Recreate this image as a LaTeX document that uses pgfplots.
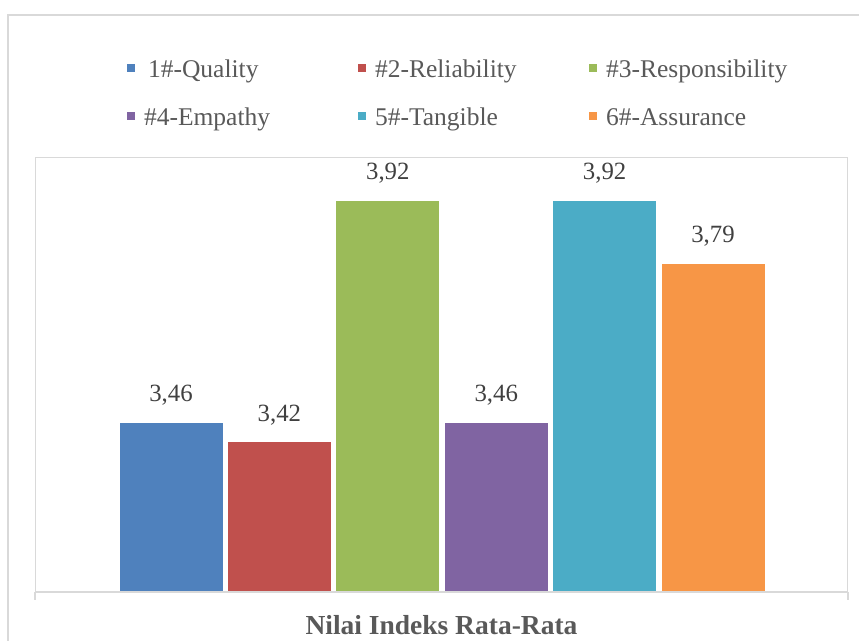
\documentclass[border=0pt]{standalone}
\usepackage{pgfplots}
\pgfplotsset{compat=1.18}
\usepackage{fontspec}
\setmainfont{Liberation Serif}
\definecolor{cQ}{HTML}{4F81BD}
\definecolor{cR}{HTML}{C0504D}
\definecolor{cS}{HTML}{9BBB59}
\definecolor{cE}{HTML}{8064A2}
\definecolor{cT}{HTML}{4BACC6}
\definecolor{cA}{HTML}{F79646}
\definecolor{gridgray}{HTML}{D9D9D9}
\definecolor{txtgray}{HTML}{595959}
\definecolor{lblgray}{HTML}{404040}
\begin{document}
\begin{tikzpicture}
\useasboundingbox (0pt,0pt) rectangle (429.5pt,-320.5pt);
\draw[gridgray, line width=0.7pt] (4pt,-7.5pt) rectangle (445pt,-345pt);
\begin{axis}[
  at={(17.5pt,-296pt)}, anchor=south west,
  scale only axis, width=406.5pt, height=217.5pt,
  xmin=-0.2546, xmax=7.245, ymin=3.109, ymax=4.010,
  ybar, bar width=52pt,
  axis line style={gridgray, line width=0.5pt},
  xtick={-0.2546,7.245}, xticklabels={}, ytick=\empty,
  tick align=outside, tick pos=lower, major tick length=4pt,
  tick style={gridgray, line width=0.7pt},
  clip=false,
  /pgf/number format/.cd, use comma, fixed, fixed zerofill, precision=2, assume math mode=true,
  /pgfplots/.cd,
  nodes near coords,
  every node near coord/.append style={font=\fontsize{12.4}{14}\selectfont, text=lblgray, anchor=base, yshift=10.3pt, inner sep=0pt},
  xlabel={\textbf{Nilai Indeks Rata-Rata}},
  xlabel style={at={(axis description cs:0.5,0)}, anchor=base, yshift=-21.5pt, font=\fontsize{13.75}{16}\selectfont, text=txtgray, inner sep=0pt},
  legend columns=3,
  legend image code/.code={\path[#1,draw=none] (0pt,2.5pt) rectangle (4pt,6.5pt);},
  legend style={draw=none, fill=none, at={(axis description cs:0.1132,1.2253)}, anchor=north west,
    inner sep=0pt, outer sep=0pt, row sep=12pt,
    font=\fontsize{12.75}{15}\selectfont, text=txtgray,
    nodes={inner sep=0pt, text height=9pt, text depth=3pt, anchor=base west},
    /tikz/every odd column/.append style={column sep=4.5pt},
    /tikz/every even column/.append style={column sep=0pt}},
]
\addplot[fill=cQ, draw=white, line width=0.5pt, bar shift=0pt] coordinates {(1,3.46)};
\addlegendentry{\makebox[107pt][l]{\hspace{2pt}1\#-Quality}}
\addplot[fill=cR, draw=white, line width=0.5pt, bar shift=0pt] coordinates {(2,3.42)};
\addlegendentry{\makebox[107pt][l]{\#2-Reliability}}
\addplot[fill=cS, draw=white, line width=0.5pt, bar shift=0pt] coordinates {(3,3.92)};
\addlegendentry{\makebox[107pt][l]{\#3-Responsibility}}
\addplot[fill=cE, draw=white, line width=0.5pt, bar shift=0pt] coordinates {(4,3.46)};
\addlegendentry{\makebox[107pt][l]{\#4-Empathy}}
\addplot[fill=cT, draw=white, line width=0.5pt, bar shift=0pt] coordinates {(5,3.92)};
\addlegendentry{\makebox[107pt][l]{5\#-Tangible}}
\addplot[fill=cA, draw=white, line width=0.5pt, bar shift=0pt] coordinates {(6,3.79)};
\addlegendentry{\makebox[107pt][l]{6\#-Assurance}}
\draw[gridgray, line width=1.2pt] (rel axis cs:0,0) -- (rel axis cs:1,0);
\end{axis}
\end{tikzpicture}
\end{document}
